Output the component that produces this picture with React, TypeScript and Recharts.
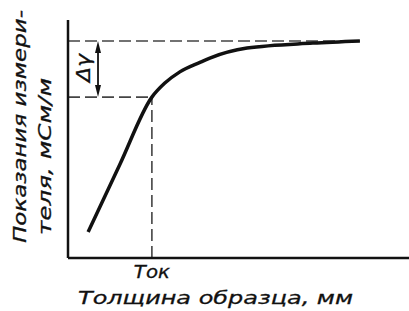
import React from 'react';
import { LineChart, Line, XAxis, YAxis, ReferenceLine } from 'recharts';

const thicknessX = [0.59, 1.52, 2.46, 2.84, 3.28, 3.87, 4.16, 5.25, 7.18, 8.56];
const readingY = [1.09, 3.93, 6.76, 7.35, 7.82, 8.22, 8.4, 8.82, 9.03, 9.12];
const tokX = 2.46;
const levelLow = 6.76;
const levelHigh = 9.12;
const curveEndX = 8.56;
const arrowX = 0.88;
const xTicks = [tokX];
const tickLabels = ['Tок'];
const xLabel = 'Толщина образца, мм';
const yLabelLines = ['Показания измери-', 'теля, мСм/м'];
const deltaLabel = 'Δγ';

const data = thicknessX.map((x, i) => ({ x, y: readingY[i] }));

const FONT = '"DejaVu Sans", sans-serif';
const INK = '#111';

const ArrowShape = (p: any) => {
  const { x1, y1, x2, y2 } = p;
  const top = Math.min(y1, y2);
  const bot = Math.max(y1, y2);
  const x = x1;
  const mid = (top + bot) / 2;
  return (
    <g>
      <line x1={x} y1={top + 6} x2={x} y2={bot - 6} stroke={INK} strokeWidth={1.8} />
      <polygon points={`${x},${top} ${x - 3},${top + 12} ${x + 3},${top + 12}`} fill={INK} />
      <polygon points={`${x},${bot} ${x - 3},${bot - 12} ${x + 3},${bot - 12}`} fill={INK} />
      <text
        x={x - 15}
        y={mid - 1}
        transform={`rotate(-90, ${x - 15}, ${mid - 1})`}
        textAnchor="middle"
        dominantBaseline="central"
        fontFamily={FONT}
        fontStyle="italic"
        fontSize={20}
        fill={INK}
        stroke={INK}
        strokeWidth={0.3}
        textLength={28}
        lengthAdjust="spacingAndGlyphs"
      >
        {deltaLabel}
      </text>
    </g>
  );
};

const XTick = (p: any) => {
  const idx = xTicks.indexOf(p.payload.value);
  return (
    <text
      x={p.x}
      y={272}
      textAnchor="middle"
      dominantBaseline="central"
      fontFamily={FONT}
      fontStyle="italic"
      fontSize={17}
      fill={INK}
      stroke={INK}
      strokeWidth={0.3}
      textLength={36}
      lengthAdjust="spacingAndGlyphs"
    >
      {tickLabels[idx >= 0 ? idx : 0]}
    </text>
  );
};

const XLabelContent = () => (
  <text
    x={215.5}
    y={297}
    textAnchor="middle"
    dominantBaseline="central"
    fontFamily={FONT}
    fontStyle="italic"
    fontSize={18}
    fill={INK}
    stroke={INK}
    strokeWidth={0.3}
    textLength={275}
    lengthAdjust="spacingAndGlyphs"
  >
    {xLabel}
  </text>
);

const YLabelContent = () => (
  <g>
    <text
      x={19}
      y={126.5}
      transform="rotate(-90, 19, 126.5)"
      textAnchor="middle"
      dominantBaseline="central"
      fontFamily={FONT}
      fontStyle="italic"
      fontSize={18}
      fill={INK}
      stroke={INK}
      strokeWidth={0.3}
      textLength={233}
      lengthAdjust="spacingAndGlyphs"
    >
      {yLabelLines[0]}
    </text>
    <text
      x={44}
      y={156.5}
      transform="rotate(-90, 44, 156.5)"
      textAnchor="middle"
      dominantBaseline="central"
      fontFamily={FONT}
      fontStyle="italic"
      fontSize={18}
      fill={INK}
      stroke={INK}
      strokeWidth={0.3}
      textLength={157}
      lengthAdjust="spacingAndGlyphs"
    >
      {yLabelLines[1]}
    </text>
  </g>
);

export default function App() {
  return (
    <div style={{ position: 'absolute', left: 0, top: 0, background: '#fff' }}>
      <LineChart width={409} height={311} data={data} margin={{ top: 20, right: 0, bottom: 0, left: 0 }}>
        <XAxis
          dataKey="x"
          type="number"
          domain={[0, 10]}
          ticks={xTicks}
          tickLine={false}
          axisLine={{ stroke: INK, strokeWidth: 2.5 }}
          tick={<XTick />}
          height={53}
          label={<XLabelContent />}
        />
        <YAxis
          type="number"
          domain={[0, 10]}
          ticks={[]}
          tick={false}
          tickLine={false}
          axisLine={{ stroke: INK, strokeWidth: 2.5 }}
          width={68}
          label={<YLabelContent />}
        />
        <ReferenceLine
          segment={[{ x: 0, y: levelHigh }, { x: curveEndX, y: levelHigh }]}
          stroke="#444"
          strokeWidth={1.6}
          strokeDasharray="12 5"
        />
        <ReferenceLine
          segment={[{ x: 0, y: levelLow }, { x: tokX, y: levelLow }]}
          stroke="#444"
          strokeWidth={1.6}
          strokeDasharray="12 5"
        />
        <ReferenceLine
          segment={[{ x: tokX, y: 0 }, { x: tokX, y: levelLow }]}
          stroke="#444"
          strokeWidth={1.6}
          strokeDasharray="12 5"
        />
        <ReferenceLine
          segment={[{ x: arrowX, y: levelLow }, { x: arrowX, y: levelHigh }]}
          stroke={INK}
          shape={<ArrowShape />}
        />
        <Line
          dataKey="y"
          type="monotone"
          stroke={INK}
          strokeWidth={3.5}
          dot={false}
          isAnimationActive={false}
        />
      </LineChart>
    </div>
  );
}
